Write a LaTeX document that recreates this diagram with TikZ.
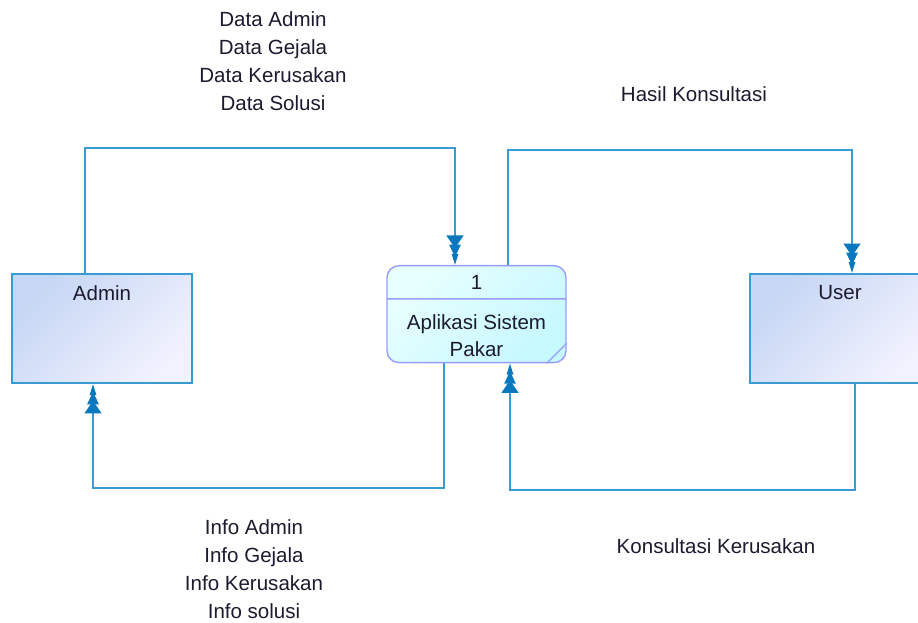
\documentclass[tikz,border=0pt]{standalone}
\usepackage{fontspec}
\setmainfont{Liberation Sans}
\usepackage{tikz}
\usetikzlibrary{arrows.meta, calc, shapes.multipart}
\usepackage{xcolor}
\definecolor{dfdline}{HTML}{3A9BD2}
\definecolor{dfdtip}{HTML}{0A78BE}
\definecolor{dfdedge}{HTML}{9A9CFA}
\definecolor{dfdtext}{HTML}{1C1A2E}
\definecolor{entitytop}{HTML}{C6D6F4}
\definecolor{entitybot}{HTML}{F2F2FE}
\definecolor{procstop}{HTML}{E8FFFF}
\definecolor{procsbot}{HTML}{C6F8FF}

\begin{document}
\begin{tikzpicture}[
    font=\fontsize{14.6pt}{19.9pt}\selectfont,
    text=dfdtext,
    entity/.style={draw=dfdline, line width=1.3pt,
                   top color=entitytop, bottom color=entitybot, shading angle=45,
                   minimum width=4.5cm, minimum height=2.725cm,
                   label={[anchor=north, inner sep=0pt, yshift=-0.3cm]north:#1}},
    process/.style={rectangle split, rectangle split parts=2,
                    draw=dfdedge, line width=1pt, rounded corners=0.3cm,
                    top color=procstop, bottom color=procsbot, shading angle=45,
                    minimum width=4.475cm, inner ysep=4pt, align=center},
    flow/.style={dfdline, line width=1.3pt,
                 -{Triangle[width=12pt,length=9pt,sep=-2.5pt,color=dfdtip]
                   Triangle[width=8pt,length=9pt,sep=-2.5pt,color=dfdtip]
                   Triangle[width=4.5pt,length=8pt,color=dfdtip]}},
    info/.style={align=center, inner sep=0pt}
  ]
    \useasboundingbox (0,0) rectangle (22.95,15.55);

    % external entities and the process
    \node[entity=Admin] (admin) at (2.55, 7.3375) {};
    \node[entity=User] (user) at (21.0, 7.3375) {};
    \node[process, anchor=north] (proses) at (11.9125, 8.925)
      {\rule[-2.2pt]{0pt}{14.6pt}1
       \nodepart{two} \rule{0pt}{17.1pt}Aplikasi Sistem\\[-0.8pt]Pakar};
    \draw[dfdedge, line width=0.8pt]
      ([xshift=-0.5cm]proses.south east) -- ([yshift=0.5cm]proses.south east);

    % data flows
    \draw[flow] ([xshift=-0.425cm]admin.north) -- ++(0,3.125)
      -| ([xshift=-0.5375cm]proses.north);
    \draw[flow] ([xshift=0.7875cm]proses.north) -- ++(0,2.875)
      -| ([xshift=0.3cm]user.north);
    \draw[flow] ([xshift=-0.8125cm]proses.south) -- ++(0,-3.125)
      -| ([xshift=-0.225cm]admin.south);
    \draw[flow] ([xshift=0.375cm]user.south) -- ++(0,-2.65)
      -| ([xshift=0.8375cm]proses.south);

    % flow labels
    \node[info] (data-in) at (6.825, 14.025)
      {Data Admin\\Data Gejala\\Data Kerusakan\\Data Solusi};
    \node[info] (hasil) at (17.35, 13.2) {Hasil Konsultasi};
    \node[info] (info-out) at (6.35, 1.325)
      {Info Admin\\Info Gejala\\Info Kerusakan\\Info solusi};
    \node[info] (konsul) at (17.9, 1.9) {Konsultasi Kerusakan};
  \end{tikzpicture}
\end{document}
